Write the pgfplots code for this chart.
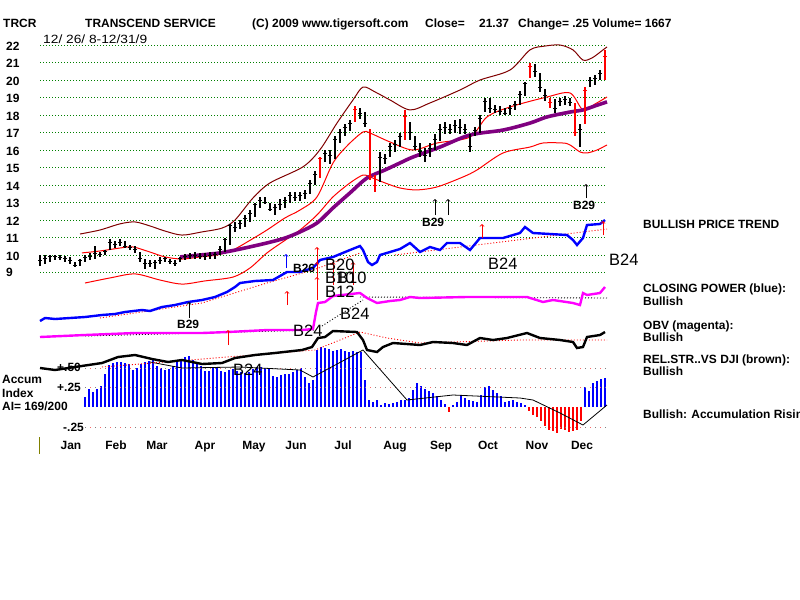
\documentclass[border=0pt]{standalone}
\usepackage{pgfplots}
\pgfplotsset{compat=1.18}
\usepackage{pgfplotstable}
\usepackage{fontspec}
\setmainfont{Liberation Sans}
\definecolor{gridgreen}{RGB}{0,128,0}
\definecolor{maroon}{RGB}{128,0,0}
\definecolor{pur}{RGB}{128,0,128}
\definecolor{cpblue}{RGB}{0,0,255}
\definecolor{obv}{RGB}{255,0,255}
\definecolor{olive}{RGB}{128,128,0}
\newcommand\bt{\bfseries\fontsize{12}{13.5}\selectfont}
\newcommand\rt{\fontsize{12}{13.5}\selectfont}
\newcommand\bigt{\fontsize{16.5}{18}\selectfont}
\pgfplotsset{base/.style={scale only axis, width=800bp, height=600bp, xmin=0, xmax=800,
  hide axis, clip=false, at={(0,0)}, anchor=south west}}

% price bars: x (pixel), low, high, close
\pgfplotstableread{
x l h c
40 9.4 10.0 9.7
45 9.5 10.0 9.8
50 9.6 10.0 9.9
55 9.7 10.0 9.9
60 9.7 10.0 9.85
65 9.6 9.95 9.8
70 9.5 9.9 9.7
75 9.3 9.6 9.4
80 9.4 9.8 9.7
85 9.6 10.0 9.85
90 9.7 10.1 9.9
95 9.8 10.5 10.1
100 9.9 10.2 10.05
105 10.0 10.3 10.2
110 10.3 10.9 10.7
115 10.4 10.8 10.6
120 10.5 10.9 10.7
125 10.4 10.8 10.5
130 10.3 10.6 10.45
135 10.1 10.5 10.3
140 9.6 10.2 9.8
145 9.2 9.8 9.5
150 9.3 9.7 9.55
155 9.2 9.7 9.6
160 9.5 9.9 9.7
165 9.6 9.9 9.8
170 9.5 9.8 9.65
175 9.4 9.7 9.55
180 9.6 9.9 9.8
185 9.7 10.05 9.9
190 9.8 10.1 10.0
195 9.8 10.2 10.0
200 9.8 10.1 9.95
205 9.7 10.1 9.9
210 9.8 10.2 10.0
215 9.8 10.2 10.05
220 10.0 10.5 10.35
225 10.2 11.0 10.9
230 10.6 11.8 11.7
235 11.3 11.9 11.6
240 11.5 12.0 11.8
245 11.6 12.3 12.1
250 11.9 12.6 12.4
255 12.2 13.0 12.9
260 12.7 13.3 13.1
265 12.9 13.3 13.0
270 12.5 13.0 12.6
275 12.3 12.9 12.7
280 12.6 13.2 12.9
285 12.7 13.3 13.1
290 13.0 13.6 13.4
295 13.1 13.6 13.3
300 13.1 13.6 13.4
305 13.2 13.7 13.5
310 13.5 14.3 14.1
315 14.0 14.8 14.6
325 15.3 16.0 15.8
330 15.2 16.0 15.7
335 15.5 16.8 16.6
340 16.4 17.2 17.0
345 16.8 17.5 17.3
350 17.1 17.7 17.5
360 17.8 18.4 18.1
365 17.3 18.2 17.5
380 14.2 15.9 15.6
385 15.2 15.8 15.5
390 15.6 16.4 16.2
395 15.9 16.6 16.3
400 16.2 17.0 16.8
410 16.6 17.6 17.0
415 16.0 16.8 16.2
420 15.6 16.4 15.9
425 15.3 16.1 15.7
430 15.6 16.4 16.1
435 16.0 16.9 16.6
440 16.5 17.5 17.2
445 16.9 17.6 17.3
450 16.9 17.5 17.2
455 17.0 17.7 17.4
460 16.9 17.8 17.3
465 16.9 17.5 17.2
470 15.9 16.9 16.2
475 16.8 17.3 17.1
480 17.0 18.0 17.8
485 18.2 19.0 18.8
490 18.1 19.0 18.4
495 18.1 18.6 18.3
500 18.0 18.5 18.2
505 18.0 18.4 18.1
510 18.0 18.6 18.4
515 18.3 18.8 18.6
520 18.6 19.4 19.2
525 19.1 19.9 19.8
535 20.2 20.9 20.5
540 19.3 20.4 19.6
545 18.8 19.5 19.1
555 18.1 18.9 18.4
560 18.5 19.0 18.8
565 18.6 19.1 18.9
570 18.5 19.0 18.7
580 16.2 17.5 17.2
590 19.6 20.2 20.0
595 19.7 20.3 20.1
600 20.0 20.6 20.4
}\pricetab
\pgfplotstableread{
x l h c
320 14.4 15.6 15.5
355 17.6 18.5 18.3
370 14.3 17.2 14.5
375 13.6 14.6 14.0
405 16.6 18.3 17.9
530 20.1 21.0 20.8
550 18.4 19.0 18.7
575 16.8 18.7 17.0
585 17.5 19.6 19.4
605 20.0 21.7 21.37
}\redtab
% accumulation index (positive / negative)
\pgfplotstableread{
x a
85 0.125
89 0.225
93 0.19
97 0.225
101 0.26
105 0.41
109 0.525
113 0.55
117 0.56
121 0.56
125 0.55
129 0.54
133 0.46
137 0.49
141 0.54
145 0.56
149 0.575
153 0.59
157 0.51
161 0.49
165 0.46
169 0.475
173 0.51
177 0.56
181 0.59
185 0.625
189 0.64
193 0.59
197 0.56
201 0.51
205 0.45
209 0.45
213 0.49
217 0.49
221 0.45
225 0.44
229 0.46
233 0.475
237 0.45
241 0.44
245 0.425
249 0.44
253 0.475
257 0.5
261 0.5
265 0.49
269 0.475
273 0.39
277 0.375
281 0.4
285 0.41
289 0.41
293 0.44
297 0.46
301 0.49
305 0.375
309 0.3
313 0.34
317 0.71
321 0.75
325 0.74
329 0.725
333 0.7
337 0.71
341 0.725
345 0.7
349 0.69
353 0.7
357 0.69
361 0.69
365 0.34
369 0.09
373 0.0625
377 0.09
381 0.025
385 0.05
389 0.04
393 0.05
397 0.0625
401 0.09
405 0.09
409 0.11
413 0.21
417 0.3
421 0.26
425 0.225
429 0.2
433 0.175
437 0.14
441 0.09
445 0.04
453 0.025
457 0.0625
461 0.15
465 0.11
469 0.09
473 0.075
477 0.0625
481 0.15
485 0.25
489 0.26
493 0.21
497 0.175
501 0.14
505 0.0625
509 0.075
513 0.09
517 0.0625
521 0.05
525 0.025
585 0.25
589 0.2
593 0.3
597 0.325
601 0.35
605 0.36
}\accpos
\pgfplotstableread{
x a
449 -0.06
529 -0.05
533 -0.1
537 -0.125
541 -0.175
545 -0.24
549 -0.29
553 -0.3
557 -0.325
561 -0.275
565 -0.29
569 -0.31
573 -0.3
577 -0.29
581 -0.175
}\accneg

\begin{document}
\begin{tikzpicture}
\useasboundingbox (0,0) rectangle (800bp,600bp);
\fill[white] (0,0) rectangle (800bp,600bp);

% ---------- price panel (price units) ----------
\begin{axis}[base, ymin=-9.703, ymax=24.583]
\pgfplotsinvokeforeach{9,...,22}{%
  \addplot[gridgreen, line width=0.9bp, dash pattern=on 0.9bp off 2.1bp] coordinates {(40,#1) (607,#1)};}
% upper band
\addplot[maroon, line width=1bp, smooth] coordinates {
(80,11.21) (100,11.44) (120,11.79) (135,11.90) (150,11.67) (165,11.38) (182,11.15) (202,11.33)
(222,11.55) (235,12.01) (253,13.27) (270,14.13) (303,15.05) (320,16.03) (337,17.55) (353,18.87)
(363,19.61) (375,19.33) (390,18.87) (410,18.30) (430,18.70) (460,19.44) (480,20.01) (510,20.58)
(530,21.73) (545,21.95) (560,22.01) (573,21.73) (583,21.15) (592,21.27) (603,21.73) (607,21.90)};
% middle band
\addplot[red, line width=1bp, smooth] coordinates {
(82,10.13) (100,10.24) (120,10.41) (133,10.47) (150,10.18) (165,9.90) (182,9.78) (200,9.90)
(217,10.01) (233,10.30) (250,10.85) (267,11.44) (285,12.13) (300,12.58) (317,13.33) (333,15.27)
(348,16.30) (363,17.04) (370,16.98) (390,16.47) (413,16.01) (437,16.41) (470,16.75) (487,17.90)
(510,18.47) (547,19.04) (570,19.27) (583,18.30) (595,18.64) (607,19.04)};
% lower band
\addplot[red, line width=1bp, smooth] coordinates {
(85,8.41) (110,8.70) (135,8.93) (160,8.58) (182,8.35) (205,8.53) (233,8.75) (250,9.27)
(267,10.13) (285,10.85) (300,11.44) (317,12.30) (333,13.33) (350,14.13) (363,14.58) (370,14.47)
(385,14.13) (400,13.84) (417,13.73) (437,13.90) (463,14.47) (477,14.87) (503,15.84) (530,16.18)
(543,16.41) (563,16.41) (570,16.30) (580,15.90) (587,15.84) (597,16.01) (607,16.30)};
% purple moving average
\addplot[pur, line width=3.6bp, smooth] coordinates {
(180,9.90) (200,10.01) (220,10.13) (240,10.35) (267,10.70) (285,10.98) (300,11.33) (317,11.84)
(333,12.70) (350,13.56) (367,14.41) (385,14.87) (400,15.27) (413,15.61) (440,16.18) (470,16.87)
(503,17.15) (530,17.55) (547,17.90) (570,18.18) (583,18.30) (595,18.53) (607,18.76)};
% daily bars
\addplot[black, only marks, mark=-, mark size=2bp, mark options={line width=0.9bp},
  error bars/.cd, y dir=both, y explicit, error mark=none,
  error bar style={line width=1.1bp, black}]
  table[x=x, y=c, y error plus expr=\thisrow{h}-\thisrow{c}, y error minus expr=\thisrow{c}-\thisrow{l}] {\pricetab};
\addplot[red, only marks, mark=-, mark size=2bp, mark options={line width=0.9bp},
  error bars/.cd, y dir=both, y explicit, error mark=none,
  error bar style={line width=1.1bp, red}]
  table[x=x, y=c, y error plus expr=\thisrow{h}-\thisrow{c}, y error minus expr=\thisrow{c}-\thisrow{l}] {\redtab};
\end{axis}

% ---------- accumulation index ----------
\begin{axis}[base, ymin=-2.4125, ymax=5.0875]
\addplot[cpblue, ycomb, line width=1.5bp] table[x=x, y=a] {\accpos};
\addplot[red, ycomb, line width=1.5bp] table[x=x, y=a] {\accneg};
\end{axis}

% ---------- pixel axis: indicators and text ----------
\begin{axis}[base, ymin=0, ymax=600, y dir=reverse]
% accum level dots
\addplot[gray, line width=1bp, dash pattern=on 1bp off 9bp] coordinates {(85,368) (607,368)};
\addplot[gray, line width=1bp, dash pattern=on 1bp off 9bp] coordinates {(85,387) (607,387)};
\addplot[gray, line width=1bp, dash pattern=on 1bp off 9bp] coordinates {(85,427) (607,427)};
\addplot[red!60, line width=1bp, dash pattern=on 1bp off 9bp, dash phase=5bp] coordinates {(85,368) (607,368)};
\addplot[red!60, line width=1bp, dash pattern=on 1bp off 9bp, dash phase=5bp] coordinates {(85,387) (607,387)};
\addplot[red!60, line width=1bp, dash pattern=on 1bp off 9bp, dash phase=5bp] coordinates {(85,427) (607,427)};
% accum moving average
\addplot[black, line width=0.8bp] coordinates {(150,362) (182,368) (240,367) (300,370) (313,377) (363,350)
 (407,400) (453,395) (520,398) (533,400) (560,413) (583,425) (607,405)};
% closing power trend (red dotted)
\addplot[red, line width=0.9bp, dash pattern=on 1bp off 2bp] coordinates {(100,318) (135,313) (202,303) (267,283) (313,270) (360,253)};
\addplot[red, line width=0.9bp, dash pattern=on 1bp off 2bp] coordinates {(395,255) (607,229)};
% closing power (blue)
\addplot[cpblue, line width=2.4bp] coordinates {
(40,321) (45,318) (55,319) (70,318) (85,317) (102,315) (115,314) (125,312) (142,310) (150,311)
(162,307) (175,305) (188,302) (202,300) (215,297) (227,292) (235,287) (240,283) (255,281) (273,280)
(280,276) (287,272) (300,272) (313,268) (320,260) (333,257) (350,250) (360,246) (363,250) (368,262)
(372,265) (377,262) (380,255) (390,252) (400,249) (410,243) (420,252) (430,247) (440,250) (447,243)
(460,243) (470,250) (480,238) (503,238) (520,233) (525,227) (533,233) (550,234) (567,235) (573,240)
(577,245) (583,238) (587,225) (600,224) (605,220)};
% OBV dotted trend
\addplot[black, line width=0.9bp, dash pattern=on 1bp off 2bp] coordinates {(85,336) (315,330)};
\addplot[black, line width=0.9bp, dash pattern=on 1bp off 2bp] coordinates {(360,297) (607,298)};
\addplot[black, line width=0.9bp, dash pattern=on 1bp off 2bp] coordinates {(322,326) (363,300)};
% OBV (magenta)
\addplot[obv, line width=2.4bp] coordinates {
(40,337) (85,335) (135,333) (167,333) (202,333) (228,332) (268,330) (302,330) (313,329) (316,312)
(318,303) (325,302) (333,296) (360,293) (367,298) (377,303) (390,301) (400,300) (410,297) (420,298)
(467,297) (500,297) (527,297) (543,302) (553,300) (573,303) (580,305) (583,293) (587,295) (600,293) (605,287)};
% relative strength trend (red dotted)
\addplot[red, line width=0.9bp, dash pattern=on 1bp off 2bp] coordinates {(102,367) (315,350) (360,332) (387,338) (420,343) (520,340) (607,340)};
% relative strength (black)
\addplot[black, line width=2.4bp] coordinates {
(40,368) (55,370) (75,367) (102,363) (118,357) (135,355) (152,359) (168,362) (182,360) (202,364)
(222,363) (235,358) (255,355) (275,353) (302,350) (312,347) (318,338) (325,337) (333,331) (357,332)
(363,340) (367,350) (377,352) (383,347) (393,343) (420,345) (433,342) (453,343) (467,345) (480,338)
(493,340) (507,338) (527,333) (540,338) (560,340) (573,342) (577,348) (583,347) (587,337) (600,335) (605,332)};
% olive marker line
\addplot[olive, line width=1bp] coordinates {(39,437) (39,454)};
% signal arrows
\addplot[black, ->, line width=0.8bp] coordinates {(189,318) (189,302)};
\addplot[black, ->, line width=0.8bp] coordinates {(435,215) (435,199)};
\addplot[black, ->, line width=0.8bp] coordinates {(448,215) (448,199)};
\addplot[black, ->, line width=0.8bp] coordinates {(586,198) (586,184)};
\addplot[cpblue, ->, line width=0.8bp] coordinates {(286,268) (286,254)};
\addplot[red, ->, line width=0.8bp] coordinates {(317,300) (317,247)};
\addplot[red, ->, line width=0.8bp] coordinates {(317,300) (317,262)};
\addplot[red, ->, line width=0.8bp] coordinates {(317,300) (317,277)};
\addplot[red, ->, line width=0.8bp] coordinates {(333,285) (333,262)};
\addplot[red, ->, line width=0.8bp] coordinates {(353,285) (353,262)};
\addplot[red, ->, line width=0.8bp] coordinates {(287,305) (287,291)};
\addplot[red, ->, line width=0.8bp] coordinates {(228,345) (228,330)};
\addplot[red, ->, line width=0.8bp] coordinates {(482,238) (482,224)};
\addplot[red, ->, line width=0.8bp] coordinates {(603,235) (603,221)};

% header
\node[anchor=base west, font=\bt, inner sep=0] at (axis cs:3,27) {TRCR};
\node[anchor=base west, font=\bt, inner sep=0] at (axis cs:85,27) {TRANSCEND SERVICE};
\node[anchor=base west, font=\bt, inner sep=0] at (axis cs:252,27) {(C) 2009 www.tigersoft.com};
\node[anchor=base west, font=\bt, inner sep=0] at (axis cs:425,27) {Close=};
\node[anchor=base west, font=\bt, inner sep=0] at (axis cs:479,27) {21.37};
\node[anchor=base west, font=\bt, inner sep=0] at (axis cs:518,27) {Change= .25 Volume= 1667};
\node[anchor=base west, font=\rt, inner sep=0, xscale=1.15] at (axis cs:43,43) {12/ 26/ 8-12/31/9};
% price labels
\node[anchor=base west, font=\bt, inner sep=0] at (axis cs:6,50) {22};
\node[anchor=base west, font=\bt, inner sep=0] at (axis cs:6,67) {21};
\node[anchor=base west, font=\bt, inner sep=0] at (axis cs:6,85) {20};
\node[anchor=base west, font=\bt, inner sep=0] at (axis cs:6,102) {19};
\node[anchor=base west, font=\bt, inner sep=0] at (axis cs:6,120) {18};
\node[anchor=base west, font=\bt, inner sep=0] at (axis cs:6,137) {17};
\node[anchor=base west, font=\bt, inner sep=0] at (axis cs:6,155) {16};
\node[anchor=base west, font=\bt, inner sep=0] at (axis cs:6,172) {15};
\node[anchor=base west, font=\bt, inner sep=0] at (axis cs:6,190) {14};
\node[anchor=base west, font=\bt, inner sep=0] at (axis cs:6,207) {13};
\node[anchor=base west, font=\bt, inner sep=0] at (axis cs:6,225) {12};
\node[anchor=base west, font=\bt, inner sep=0] at (axis cs:6,242) {11};
\node[anchor=base west, font=\bt, inner sep=0] at (axis cs:6,260) {10};
\node[anchor=base west, font=\bt, inner sep=0] at (axis cs:6,276) {9};
% month labels
\node[anchor=base, font=\bt, inner sep=0] at (axis cs:71,449) {Jan};
\node[anchor=base, font=\bt, inner sep=0] at (axis cs:116,449) {Feb};
\node[anchor=base, font=\bt, inner sep=0] at (axis cs:157,449) {Mar};
\node[anchor=base, font=\bt, inner sep=0] at (axis cs:205,449) {Apr};
\node[anchor=base, font=\bt, inner sep=0] at (axis cs:254,449) {May};
\node[anchor=base, font=\bt, inner sep=0] at (axis cs:296,449) {Jun};
\node[anchor=base, font=\bt, inner sep=0] at (axis cs:343,449) {Jul};
\node[anchor=base, font=\bt, inner sep=0] at (axis cs:395,449) {Aug};
\node[anchor=base, font=\bt, inner sep=0] at (axis cs:441,449) {Sep};
\node[anchor=base, font=\bt, inner sep=0] at (axis cs:488,449) {Oct};
\node[anchor=base, font=\bt, inner sep=0] at (axis cs:537,449) {Nov};
\node[anchor=base, font=\bt, inner sep=0] at (axis cs:582,449) {Dec};
% accum labels
\node[anchor=base west, font=\bt, inner sep=0] at (axis cs:2,383) {Accum};
\node[anchor=base west, font=\bt, inner sep=0] at (axis cs:2,397) {Index};
\node[anchor=base west, font=\bt, inner sep=0] at (axis cs:2,410) {AI= 169/200};
\node[anchor=base west, font=\bt, inner sep=0] at (axis cs:57,371) {+.50};
\node[anchor=base west, font=\bt, inner sep=0] at (axis cs:57,391) {+.25};
\node[anchor=base west, font=\bt, inner sep=0] at (axis cs:63,431) {-.25};
% right side texts
\node[anchor=base west, font=\bt, inner sep=0] at (axis cs:643,228) {BULLISH PRICE TREND};
\node[anchor=base west, font=\bt, inner sep=0] at (axis cs:643,292) {CLOSING POWER (blue):};
\node[anchor=base west, font=\bt, inner sep=0] at (axis cs:643,305) {Bullish};
\node[anchor=base west, font=\bt, inner sep=0] at (axis cs:643,329) {OBV (magenta):};
\node[anchor=base west, font=\bt, inner sep=0] at (axis cs:643,341) {Bullish};
\node[anchor=base west, font=\bt, inner sep=0] at (axis cs:643,363) {REL.STR..VS DJI (brown):};
\node[anchor=base west, font=\bt, inner sep=0] at (axis cs:643,375) {Bullish};
\node[anchor=base west, font=\bt, inner sep=0] at (axis cs:643,418) {Bullish: Accumulation Rising};
% signal labels
\node[anchor=base west, font=\bt, inner sep=0] at (axis cs:177,328) {B29};
\node[anchor=base west, font=\bt, inner sep=0] at (axis cs:422,226) {B29};
\node[anchor=base west, font=\bt, inner sep=0] at (axis cs:573,209) {B29};
\node[anchor=base west, font=\bt, inner sep=0] at (axis cs:293,272) {B26};
\node[anchor=base west, font=\bigt, inner sep=0] at (axis cs:609,265) {B24};
\node[anchor=base west, font=\bigt, inner sep=0] at (axis cs:488,269) {B24};
\node[anchor=base west, font=\bigt, inner sep=0] at (axis cs:325,270) {B20};
\node[anchor=base west, font=\bigt, inner sep=0] at (axis cs:325,283) {B10};
\node[anchor=base west, font=\bigt, inner sep=0] at (axis cs:337,283) {B10};
\node[anchor=base west, font=\bigt, inner sep=0] at (axis cs:325,297) {B12};
\node[anchor=base west, font=\bigt, inner sep=0] at (axis cs:293,336) {B24};
\node[anchor=base west, font=\bigt, inner sep=0] at (axis cs:340,319) {B24};
\node[anchor=base west, font=\bigt, inner sep=0] at (axis cs:233,375) {B24};
\end{axis}
\end{tikzpicture}
\end{document}
